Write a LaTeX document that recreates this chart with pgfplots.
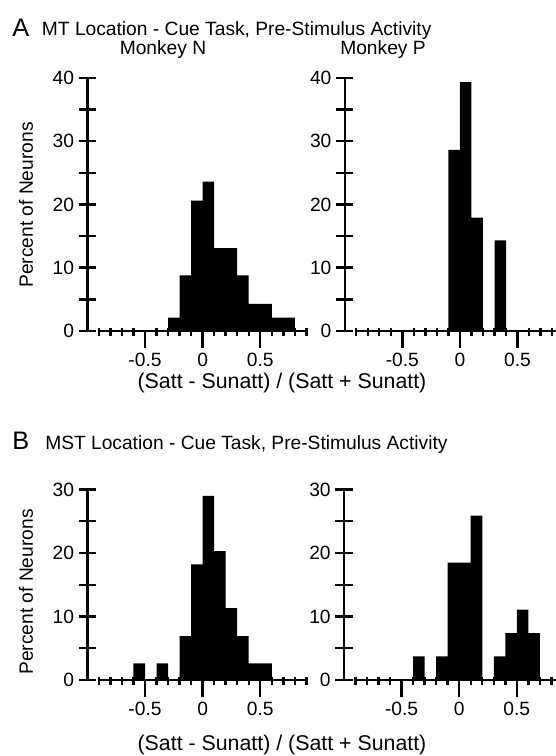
\documentclass[border=0pt]{standalone}
\usepackage{pgfplots}
\pgfplotsset{compat=1.18}
\usepackage{fontspec}
\setmainfont{Liberation Sans}

\newcommand{\lbl}{\fontsize{14.4}{16}\selectfont}

\pgfplotsset{
  hist/.style={
    scale only axis, anchor=south west, width=155.6pt,
    xmin=-0.9, xmax=0.9, ymin=0, clip=false,
    axis lines=left, axis line style={-, line width=1.8pt},
    axis y line shift=8.6pt,
    xtick={-0.5,0,0.5}, xticklabels={-0.5,0,0.5},
    minor xtick={-0.9,-0.8,-0.7,-0.6,-0.4,-0.3,-0.2,-0.1,0.1,0.2,0.3,0.4,0.6,0.7,0.8,0.9},
    xtick align=outside, ytick align=center,
    major tick length=13pt, minor tick length=6pt,
    minor x tick style={yshift=2.2pt},
    tick style={line width=1.8pt, black},
    tick label style={font=\lbl},
  },
}

\begin{document}
\begin{tikzpicture}

% ---- A: MT location ----
\begin{axis}[hist, at={(74.18pt,318.75pt)}, height=189.9pt, ymax=40,
  ytick={0,5,...,40}, yticklabels={0,,10,,20,,30,,40}]
\addplot[ybar interval, fill=black, draw=none] coordinates {
  (-0.3,2.1) (-0.2,8.8) (-0.1,20.6) (0,23.6) (0.1,13.1) (0.2,13.1)
  (0.3,8.8) (0.4,4.3) (0.5,4.3) (0.6,2.1) (0.7,2.1) (0.8,0) };
\end{axis}

\begin{axis}[hist, at={(267.15pt,318.75pt)}, height=189.9pt, ymax=40,
  ytick={0,5,...,40}, yticklabels={0,,10,,20,,30,,40}]
\addplot[ybar interval, fill=black, draw=none] coordinates {
  (-0.1,28.6) (0,39.3) (0.1,17.9) (0.2,0) (0.3,14.3) (0.4,0) };
\end{axis}

% ---- B: MST location ----
\begin{axis}[hist, at={(74.18pt,57pt)}, height=142.9pt, ymax=30,
  ytick={0,5,...,30}, yticklabels={0,,10,,20,,30}]
\addplot[ybar interval, fill=black, draw=none] coordinates {
  (-0.6,2.6) (-0.5,0) (-0.4,2.6) (-0.3,0) (-0.2,6.9) (-0.1,18.2) (0,29.0)
  (0.1,20.3) (0.2,11.3) (0.3,6.9) (0.4,2.6) (0.5,2.6) (0.6,0) };
\end{axis}

\begin{axis}[hist, at={(266.6pt,57pt)}, height=142.9pt, ymax=30,
  ytick={0,5,...,30}, yticklabels={0,,10,,20,,30}]
\addplot[ybar interval, fill=black, draw=none] coordinates {
  (-0.4,3.7) (-0.3,0) (-0.2,3.7) (-0.1,18.5) (0,18.5) (0.1,25.9) (0.2,0)
  (0.3,3.7) (0.4,7.4) (0.5,11.1) (0.6,7.4) (0.7,0) };
\end{axis}

% ---- titles and labels (positions in pixels) ----
\begin{scope}[x=0.75pt, y=0.75pt]
\node[anchor=base west, inner sep=0, font=\fontsize{19}{20}\selectfont] at (12,719) {A};
\node[anchor=base west, inner sep=0, font=\lbl] at (41.7,720.5) {MT Location - Cue Task, Pre-Stimulus Activity};
\node[anchor=base, inner sep=0, font=\lbl] at (163,701) {Monkey N};
\node[anchor=base, inner sep=0, font=\lbl] at (383,701) {Monkey P};
\node[rotate=90, font=\lbl] at (26,551) {Percent of Neurons};
\node[font=\fontsize{16}{18}\selectfont] at (282,373) {(Satt - Sunatt) / (Satt + Sunatt)};

\node[anchor=base west, inner sep=0, font=\fontsize{19}{20}\selectfont] at (12,306) {B};
\node[anchor=base west, inner sep=0, font=\lbl] at (45,306) {MST Location - Cue Task, Pre-Stimulus Activity};
\node[rotate=90, font=\lbl] at (26,164) {Percent of Neurons};
\node[font=\fontsize{16}{18}\selectfont] at (282,11) {(Satt - Sunatt) / (Satt + Sunatt)};
\end{scope}

\pgfresetboundingbox
\path[use as bounding box] (0pt,0pt) rectangle (417pt,567pt);
\end{tikzpicture}
\end{document}
